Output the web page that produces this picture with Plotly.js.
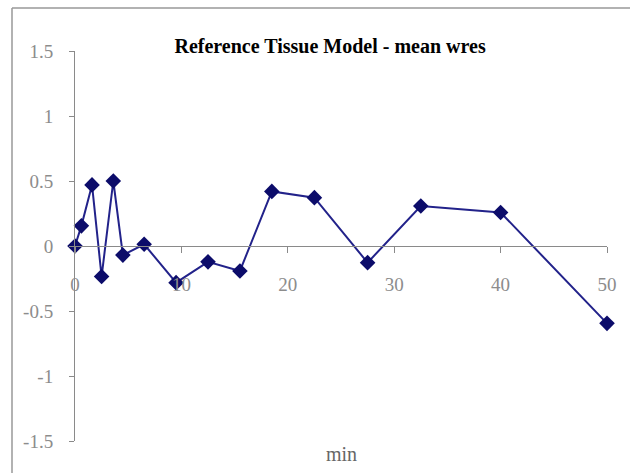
<!DOCTYPE html>
<html><head><meta charset="utf-8">
<script src="https://cdn.plot.ly/plotly-3.0.1.min.js"></script>
<style>html,body{margin:0;padding:0;background:#fff;}#chart{width:630px;height:473px;}</style>
</head><body><div id="chart"></div>
<script>
const minutes = [0, 0.6, 1.6, 2.5, 3.6, 4.5, 6.5, 9.5, 12.5, 15.5, 18.5, 22.5, 27.5, 32.5, 40, 50];
const meanWres = [0, 0.155, 0.47, -0.235, 0.5, -0.07, 0.013, -0.282, -0.122, -0.192, 0.42, 0.372, -0.128, 0.308, 0.258, -0.595];
const yTickVals = [-1.5, -1, -0.5, 0, 0.5, 1, 1.5];
const yTickText = ["-1.5", "-1", "-0.5", "0", "0.5", "1", "1.5"];
const xTickVals = [0, 10, 20, 30, 40, 50];
const xTickText = ["0", "10", "20", "30", "40", "50"];

const SERIF = 'Liberation Serif, Times New Roman, serif';
const trace = {
  x: minutes, y: meanWres, type: 'scatter', mode: 'lines+markers',
  line: {color: '#22228a', width: 2},
  marker: {symbol: 'diamond', size: 12, color: '#0c0c6a', line: {width: 0}},
  cliponaxis: false, hoverinfo: 'skip'
};
const tickFont = {family: SERIF, size: 19, color: '#8c8c8c'};
const bx0 = (12 - 75) / 532, by1 = (441 - 8) / 390;
const layout = {
  width: 630, height: 473,
  margin: {l: 75, r: 23, t: 51, b: 32},
  paper_bgcolor: '#ffffff', plot_bgcolor: 'rgba(0,0,0,0)',
  showlegend: false,
  font: tickFont,
  title: {text: 'Reference Tissue Model - mean wres', x: 0.524, xanchor: 'center', y: 0.903, yanchor: 'middle',
          font: {family: SERIF, size: 20, color: '#000', weight: 'bold'}},
  xaxis: {range: [0, 50], anchor: 'free', position: 0.5, showline: true, linecolor: '#8a8a8a', linewidth: 1,
          ticks: 'outside', ticklen: 6, tickcolor: '#8a8a8a', tickvals: xTickVals, ticktext: xTickText,
          ticklabelstandoff: 15, showgrid: false, zeroline: false, tickfont: tickFont, fixedrange: true},
  yaxis: {range: [-1.5, 1.5], showline: true, linecolor: '#8a8a8a', linewidth: 1,
          ticks: 'outside', ticklen: 5, tickcolor: '#8a8a8a', tickvals: yTickVals, ticktext: yTickText,
          ticklabelstandoff: 12, showgrid: false, zeroline: false, tickfont: tickFont, fixedrange: true},
  annotations: [{text: 'min', xref: 'paper', yref: 'paper', x: 0.5, y: (441 - 454) / 390, xanchor: 'center', yanchor: 'middle',
                 showarrow: false, font: {family: SERIF, size: 20, color: '#666'}}],
  shapes: [
    {type: 'line', xref: 'paper', yref: 'paper', x0: bx0, x1: bx0, y0: -0.09, y1: by1, line: {color: '#999999', width: 1.5}},
    {type: 'line', xref: 'paper', yref: 'paper', x0: bx0, x1: 1.05, y0: by1, y1: by1, line: {color: '#999999', width: 1.5}}
  ]
};
Plotly.newPlot('chart', [trace], layout, {displayModeBar: false, staticPlot: true});
</script></body></html>
